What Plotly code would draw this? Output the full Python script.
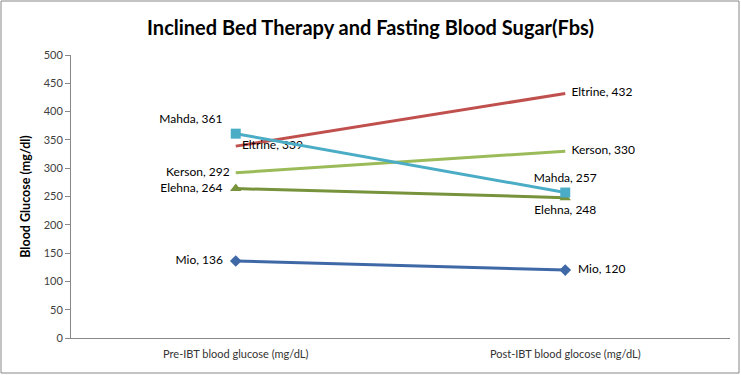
import plotly.graph_objects as go

categories = ["Pre-IBT blood glucose (mg/dL)", "Post-IBT blood glocose (mg/dL)"]
series_names = ["Mio", "Eltrine", "Kerson", "Elehna", "Mahda"]
pre_values = [136, 339, 292, 264, 361]
post_values = [120, 432, 330, 248, 257]
y_ticks = [0, 50, 100, 150, 200, 250, 300, 350, 400, 450, 500]

colors = ["#3F68A6", "#C0504D", "#9BBB59", "#77933C", "#4BACC6"]
symbols = ["diamond", None, None, "triangle-up", "square"]
marker_sizes = [9, 0, 0, 10, 10]
text_positions = [
    ["middle left", "middle right"],
    ["middle right", "middle right"],
    ["middle left", "middle right"],
    ["middle left", "bottom center"],
    ["top left", "top center"],
]

W, H = 741, 375
ml, mr, mt, mb = 71, 11, 55, 37
pw, ph = W - ml - mr, H - mt - mb

fig = go.Figure()
for i, name in enumerate(series_names):
    vals = [pre_values[i], post_values[i]]
    has_marker = symbols[i] is not None
    fig.add_trace(go.Scatter(
        x=categories, y=vals, name=name,
        mode="lines+markers+text" if has_marker else "lines+text",
        line=dict(color=colors[i], width=3),
        marker=dict(symbol=symbols[i] or "circle", size=marker_sizes[i], color=colors[i]),
        text=[f"  {name}, {v}  " for v in vals],
        textposition=text_positions[i],
        textfont=dict(family="Lato, Open Sans, sans-serif", size=12, color="#000000"),
        cliponaxis=False,
        showlegend=False,
    ))

fig.update_layout(
    width=W, height=H,
    margin=dict(l=ml, r=mr, t=mt, b=mb),
    paper_bgcolor="white", plot_bgcolor="white",
    title=dict(text="<b>Inclined Bed Therapy and Fasting Blood Sugar(Fbs)</b>",
               x=0.5, xanchor="center", y=1 - 28 / H, yanchor="middle",
               font=dict(family="Lato, Open Sans, sans-serif", size=20, color="#000000")),
    font=dict(family="Lato, Open Sans, sans-serif", size=11, color="#333333"),
    xaxis=dict(range=[-0.5, 1.5], showgrid=False, showline=True, linecolor="#888888",
               linewidth=1, ticks="", ticklabelstandoff=6,
               tickfont=dict(size=11, color="#333333")),
    yaxis=dict(range=[0, 500], tickvals=y_ticks, showgrid=False, showline=True,
               linecolor="#888888", linewidth=1, ticks="outside", ticklen=5,
               tickcolor="#888888", zeroline=False,
               tickfont=dict(size=11, color="#404040"),
               title=dict(text="<b>Blood Glucose (mg/dl)</b>", standoff=10,
                          font=dict(size=12.5, color="#000000"))),
    shapes=[dict(type="rect", xref="paper", yref="paper",
                 x0=-(ml - 1) / pw, x1=(pw + mr - 2) / pw,
                 y0=-(mb - 2) / ph, y1=(ph + mt - 1) / ph,
                 line=dict(color="#888888", width=1))],
)

fig.write_html("out.html", config={"displayModeBar": False},
               post_script="document.body.style.margin='0';document.body.style.overflow='hidden';")
